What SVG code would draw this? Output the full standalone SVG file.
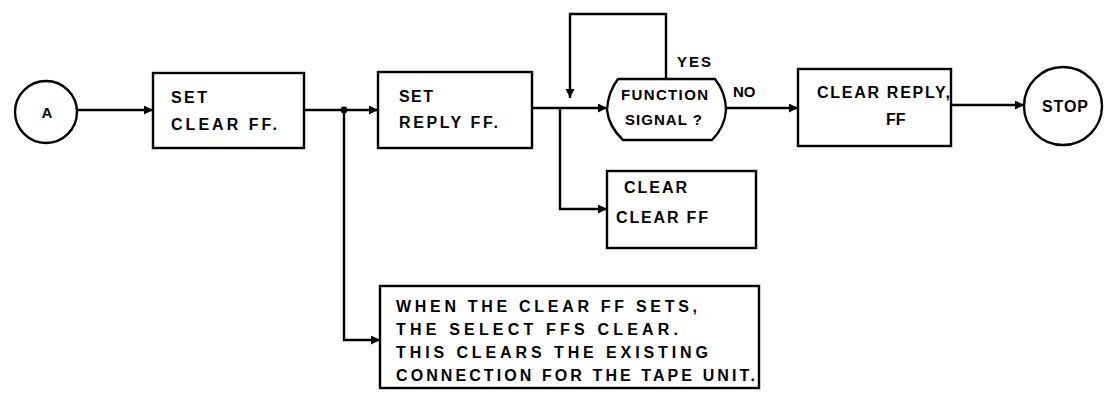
<svg xmlns="http://www.w3.org/2000/svg" width="1110" height="400" viewBox="0 0 1110 400">
<style>
.shape{fill:#fff;stroke:#000;stroke-width:2.4}
.line{fill:none;stroke:#000;stroke-width:2.4}
text{font-family:"Liberation Sans",Arial,sans-serif;font-weight:bold;font-size:16px;fill:#000}
.sm{font-size:15px}
</style>
<defs>
<marker id="arr" viewBox="0 0 10 10" refX="10" refY="5" markerWidth="11" markerHeight="9" markerUnits="userSpaceOnUse" orient="auto">
<path d="M0,0 L10,5 L0,10 Z" fill="#000"/>
</marker>
</defs>
<rect width="1110" height="400" fill="#fff"/>
<g id="connectors">
<path class="line" d="M77,110 H153" marker-end="url(#arr)"/>
<path class="line" d="M304,110 H378" marker-end="url(#arr)"/>
<circle cx="344" cy="110" r="3.4" fill="#000"/>
<path class="line" d="M344,110 V340 H380" marker-end="url(#arr)"/>
<path class="line" d="M532,108 H607" marker-end="url(#arr)"/>
<path class="line" d="M560,108 V209 H607" marker-end="url(#arr)"/>
<path class="line" d="M666,79 V14 H570 V98" marker-end="url(#arr)"/>
<path class="line" d="M726,108 H798" marker-end="url(#arr)"/>
<path class="line" d="M951,105 H1024" marker-end="url(#arr)"/>
</g>
<g id="startA">
<circle class="shape" cx="46" cy="112" r="31"/>
<text x="47" y="118" text-anchor="middle" class="sm">A</text>
</g>
<g id="setClear">
<rect class="shape" x="153" y="73" width="151" height="75"/>
<text x="171" y="103" textLength="36" lengthAdjust="spacing">SET</text>
<text x="171" y="130" textLength="106" lengthAdjust="spacing">CLEAR FF.</text>
</g>
<g id="setReply">
<rect class="shape" x="378" y="72" width="154" height="76"/>
<text x="399" y="102" textLength="34" lengthAdjust="spacing">SET</text>
<text x="399" y="128" textLength="99" lengthAdjust="spacing">REPLY FF.</text>
</g>
<g id="decision">
<path class="shape" d="M618,79 L715,79 Q726,93 726,110 Q725,127 712,140 L623,140 Q609,127 607,110 Q608,92 618,79 Z"/>
<text x="677" y="67" class="sm" textLength="34" lengthAdjust="spacing">YES</text>
<text x="621" y="100" class="sm" textLength="87" lengthAdjust="spacing">FUNCTION</text>
<text x="625" y="125" class="sm" textLength="77" lengthAdjust="spacing">SIGNAL ?</text>
<text x="733" y="97" class="sm">NO</text>
</g>
<g id="clearReply">
<rect class="shape" x="798" y="69" width="153" height="77"/>
<text x="817" y="98" textLength="133" lengthAdjust="spacing">CLEAR REPLY,</text>
<text x="886" y="125">FF</text>
</g>
<g id="stop">
<circle class="shape" cx="1063" cy="106" r="39"/>
<text x="1042" y="112" textLength="46" lengthAdjust="spacing">STOP</text>
</g>
<g id="clearClear">
<rect class="shape" x="607" y="171" width="149" height="77"/>
<text x="624" y="193" textLength="63" lengthAdjust="spacing">CLEAR</text>
<text x="616" y="223" textLength="92" lengthAdjust="spacing">CLEAR FF</text>
</g>
<g id="note">
<rect class="shape" x="380" y="286" width="379" height="102"/>
<text x="396" y="312" textLength="301" lengthAdjust="spacing">WHEN THE CLEAR FF SETS,</text>
<text x="396" y="335" textLength="282" lengthAdjust="spacing">THE SELECT FFS CLEAR.</text>
<text x="396" y="358" textLength="312" lengthAdjust="spacing">THIS CLEARS THE EXISTING</text>
<text x="396" y="381" textLength="359" lengthAdjust="spacing">CONNECTION FOR THE TAPE UNIT.</text>
</g>
</svg>
